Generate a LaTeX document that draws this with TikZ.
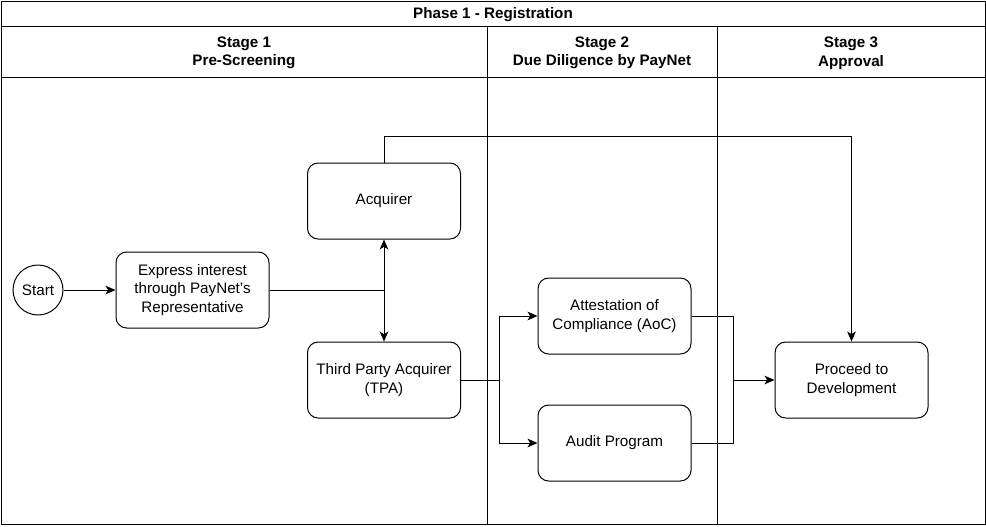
\documentclass[tikz,border=0pt]{standalone}
\usepackage{fontspec}
\setmainfont{Liberation Sans}
\usetikzlibrary{arrows.meta}

\begin{document}
\begin{tikzpicture}
[x=0.75pt,y=-0.75pt,line width=0.75pt,
 font=\fontsize{11.4}{13.9}\selectfont,
 box/.style={draw=black,rounded corners=8pt,align=center,minimum width=114.75pt,minimum height=57pt,inner sep=2pt},
 hd/.style={font=\fontsize{11.4}{13.9}\selectfont\bfseries,align=center},
 ar/.style={draw=black,arrows={-Stealth[length=7.5pt,width=6.5pt,inset=2pt]}}]
\useasboundingbox (0,0) rectangle (986,526);
% lanes
\draw (1,1) rectangle (985,524);
\draw (1,26) -- (985,26);
\draw (1,77) -- (985,77);
\draw (487,26) -- (487,524);
\draw (717,26) -- (717,524);
\node[hd] (phase) at (493,14.5) {Phase 1 - Registration};
\node[hd] (stagea) at (244,53) {Stage 1\\Pre-Screening};
\node[hd] (stageb) at (602,53) {Stage 2\\Due Diligence by PayNet};
\node[hd] (stagec) at (851,53) {Stage 3\\Approval};

% steps
\node[draw=black,circle,minimum size=37.5pt,inner sep=0pt] (start) at (38,290) {Start};
\node[box] (express) at (192.5,290) {Express interest\\through PayNet's\\Representative};
\node[box] (acq) at (384,201) {Acquirer};
\node[box] (tpa) at (384,380) {Third Party Acquirer\\(TPA)};
\node[box] (aoc) at (614.5,316) {Attestation of\\Compliance (AoC)};
\node[box] (audit) at (614.5,443) {Audit Program};
\node[box] (dev) at (851.5,380) {Proceed to\\Development};

\coordinate (split) at (384,290);
\coordinate (fork) at (499,380);
\coordinate (join) at (733,380);

\draw[ar] (start) -- (express);
\draw (express.east) -- (split);
\draw[ar] (split) -- (acq.south);
\draw[ar] (split) -- (tpa.north);
\draw[ar] (acq.north) -- ++(0,-26) -| (dev.north);
\draw (tpa.east) -- (fork);
\draw[ar] (fork) |- (aoc.west);
\draw[ar] (fork) |- (audit.west);
\draw (aoc.east) -| (join);
\draw (audit.east) -| (join);
\draw[ar] (join) -- (dev.west);

\end{tikzpicture}
\end{document}
